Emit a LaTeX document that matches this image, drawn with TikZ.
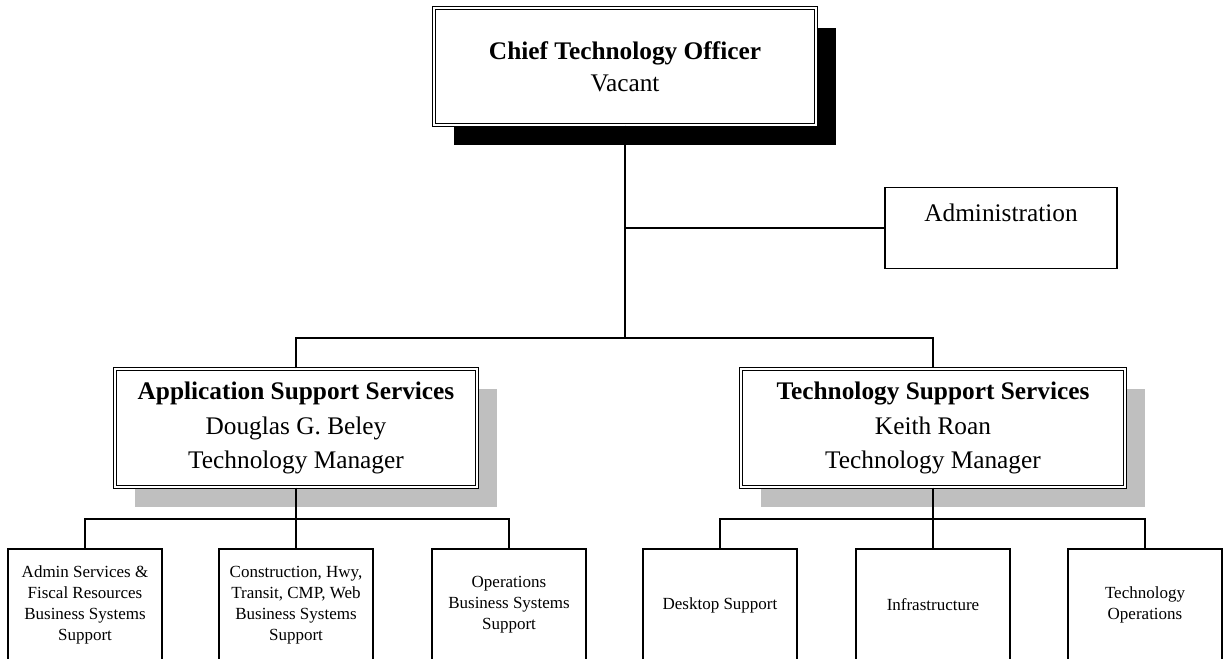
\documentclass[tikz,border=0pt]{standalone}
\usepackage{fontspec}
\setmainfont{Liberation Serif}
\usetikzlibrary{shadows,positioning}

\tikzset{
    chief/.style={draw, double, line width=0.8pt, double distance=1.4pt, fill=white,
        minimum width=286.5pt, minimum height=87.75pt, inner sep=0pt, align=center,
        font=\fontsize{19}{24}\selectfont,
        general shadow={fill=black, shadow xshift=15pt, shadow yshift=-15pt}},
    manager/.style={draw, double, line width=0.8pt, double distance=1.4pt, fill=white,
        minimum height=88.5pt, inner sep=0pt, align=center,
        font=\fontsize{19}{26}\selectfont,
        general shadow={fill=black!25, shadow xshift=15pt, shadow yshift=-15pt}},
    office/.style={draw, line width=1pt, minimum width=174pt, inner sep=0pt,
        text height=25.5pt, text depth=35.25pt, font=\fontsize{19}{24}\selectfont},
    unitbox/.style={draw, line width=1pt, minimum width=115.5pt, minimum height=84pt,
        inner sep=2pt, align=center, font=\fontsize{12.75}{15.75}\selectfont},
    link/.style={line width=1.3pt}
}

\begin{document}
\begin{tikzpicture}[x=0.75pt, y=-0.75pt]
    \useasboundingbox (0,0) rectangle (1223,658);
    \clip (0,0) rectangle (1223,658);

    % top level
    \node[chief] (cto) at (625,66.5) {\textbf{Chief Technology Officer}\\Vacant};
    \node[office] (admin) at (1001,228) {Administration};
    \node[manager, minimum width=271.5pt] (app) at (296,428)
        {\textbf{Application Support Services}\\Douglas G. Beley\\Technology Manager};
    \node[manager, minimum width=288pt] (tech) at (933,428)
        {\textbf{Technology Support Services}\\Keith Roan\\Technology Manager};

    \coordinate (topbus) at (625,338);
    \draw[link] (cto) -- (topbus);
    \draw[link] (cto.south |- admin.west) -- (admin.west);
    \draw[link] (app.north) |- (topbus) -| (tech.north);

    % units under each manager
    \foreach \x/\n/\t in {85/as1/{Admin Services \&\\Fiscal Resources\\Business Systems\\Support},
            296/as2/{Construction, Hwy,\\Transit, CMP, Web\\Business Systems\\Support},
            509/as3/{Operations\\Business Systems\\Support},
            720/ts1/{Desktop Support},
            933/ts2/{Infrastructure},
            1145/ts3/{Technology\\Operations}} {
        \node[unitbox] (\n) at (\x,605) {\t};
    }

    \coordinate (appbus) at (296,519);
    \coordinate (techbus) at (933,519);
    \draw[link] (app) -- (as2);
    \draw[link] (as1.north) |- (appbus) -| (as3.north);
    \draw[link] (tech) -- (ts2);
    \draw[link] (ts1.north) |- (techbus) -| (ts3.north);
\end{tikzpicture}
\end{document}
